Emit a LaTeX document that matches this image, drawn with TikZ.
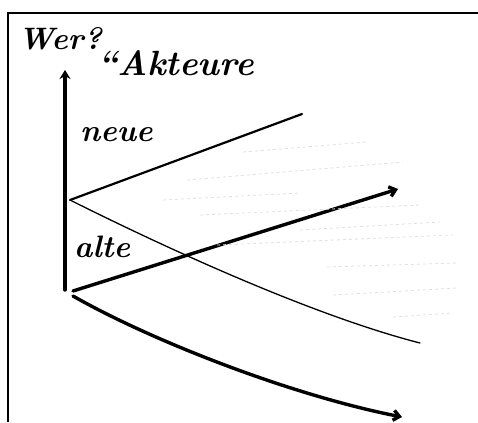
\documentclass[tikz,border=0pt]{standalone}
\usepackage{fontspec}
\usetikzlibrary{arrows.meta}
\begin{document}
\begin{tikzpicture}[x=1pt,y=-1pt,
  hand/.style={font=\itshape\bfseries\fontsize{31}{33}\selectfont, inner sep=0pt},
  big/.style={font=\itshape\bfseries\fontsize{35}{37}\selectfont, inner sep=0pt},
  small/.style={font=\itshape\bfseries\fontsize{31}{33}\selectfont, inner sep=0pt},
  thinline/.style={line width=1.3pt, line cap=round},
  midline/.style={line width=2.2pt, line cap=round},
  thickline/.style={line width=3.4pt, line cap=round},
  faint/.style={line width=0.8pt, black!12, dashed},
  tip/.style={-{Straight Barb[length=6pt,width=10pt]}}
]
\useasboundingbox (0,0) rectangle (478,422);
% frame (top and left)
\draw[line width=2.5pt] (8,422) -- (8,13) -- (478,13);
% labels
\node[hand, anchor=base west] (wer) at (18,50) {Wer?};
\node[big, anchor=base west] (akt) at (97,76) {``Akteure};
\node[small, anchor=base west] (neue) at (80,142) {neue};
\node[small, anchor=base west] (alte) at (74,257) {alte};
% axis
\coordinate (ax0) at (65,290);
\coordinate (ax1) at (65,70);
\draw[thickline, -{Stealth[length=9pt,width=11pt]}] (ax0) -- (ax1);
% lines
\coordinate (p) at (70,200);
\coordinate (q) at (73,291);
\coordinate (r) at (73,296);
\coordinate (n1) at (302,114);
\coordinate (n2) at (420,343);
\coordinate (a1) at (398,189);
\coordinate (a2) at (402,417);
\draw[midline] (p) -- (n1);
\draw[thinline] (p) .. controls (200,265) and (330,320) .. (n2);
\draw[thickline, tip] (q) -- (a1);
\draw[thickline, tip] (r) .. controls (150,340) and (290,395) .. (a2);
% faint shading
\foreach \xa/\ya/\xb/\yb in {243/152/367/142, 187/180/403/162, 163/200/300/193, 200/215/420/205, 217/245/453/235, 327/267/457/263, 333/295/457/288, 393/317/453/313, 300/230/440/222}
  \draw[faint] (\xa,\ya) -- (\xb,\yb);
\end{tikzpicture}
\end{document}
